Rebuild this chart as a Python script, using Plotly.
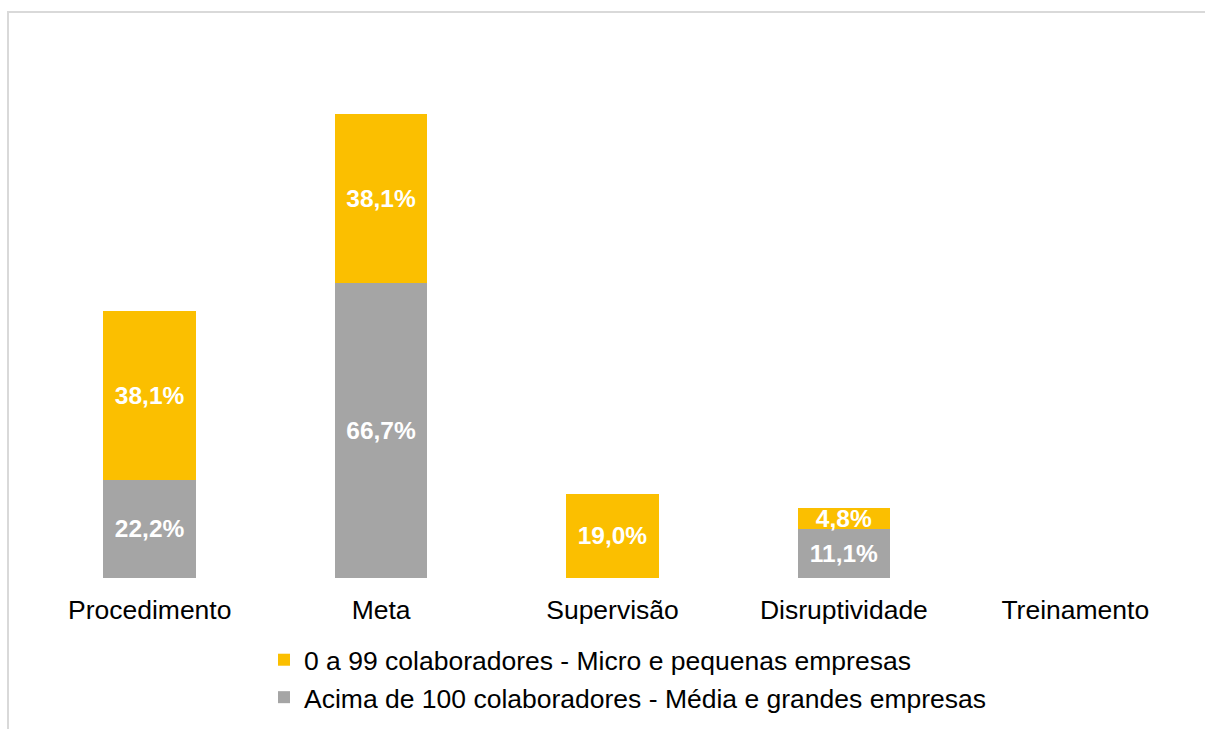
import plotly.graph_objects as go

categories = ["Procedimento", "Meta", "Supervisão", "Disruptividade", "Treinamento"]
# Percentages per company size (None = no bar)
grandes = [22.2, 66.7, None, 11.1, None]
pequenas = [38.1, 38.1, 19.0, 4.8, None]

series_names = [
    "Acima de 100 colaboradores - Média e grandes empresas",
    "0 a 99 colaboradores - Micro e pequenas empresas",
]
colors = ["#A5A5A5", "#FBBF00"]

FONT = "Liberation Sans, Arial, sans-serif"

fig = go.Figure()
for name, vals, col in zip(series_names, [grandes, pequenas], colors):
    fig.add_trace(go.Bar(
        x=categories,
        y=vals,
        name=name,
        marker=dict(color=col, line=dict(width=0)),
        width=0.4,
        texttemplate="%{y:.1f}%",
        textposition="inside",
        insidetextanchor="middle",
        textangle=0,
        constraintext="none",
        textfont=dict(family=FONT, size=24.5, color="white", weight="bold"),
        cliponaxis=False,
    ))

fig.update_layout(
    width=1205,
    height=729,
    barmode="stack",
    separators=",.",
    paper_bgcolor="white",
    plot_bgcolor="white",
    margin=dict(l=34, r=14, t=91, b=151, autoexpand=False),
    font=dict(family=FONT, size=26.5, color="black"),
    showlegend=True,
    legend=dict(
        traceorder="reversed",
        orientation="v",
        xref="container", yref="container",
        x=264 / 1205, y=1 - 636 / 729,
        xanchor="left", yanchor="top",
        font=dict(family=FONT, size=26.5, color="black"),
        itemwidth=30,
        bgcolor="rgba(0,0,0,0)",
    ),
    xaxis=dict(
        showgrid=False, showline=False, zeroline=False, ticks="",
        tickangle=0, ticklabelstandoff=13,
        tickfont=dict(family=FONT, size=26.5, color="black"),
    ),
    yaxis=dict(
        range=[0, 110], visible=False, showgrid=False, zeroline=False,
    ),
    shapes=[dict(
        type="rect", xref="paper", yref="paper",
        x0=(8 - 34) / 1157, x1=1.2, y0=-0.6, y1=(578 - 12) / 487,
        line=dict(color="#D9D9D9", width=2), fillcolor="rgba(0,0,0,0)",
        layer="below",
    )],
)

fig.write_html("out.html")
